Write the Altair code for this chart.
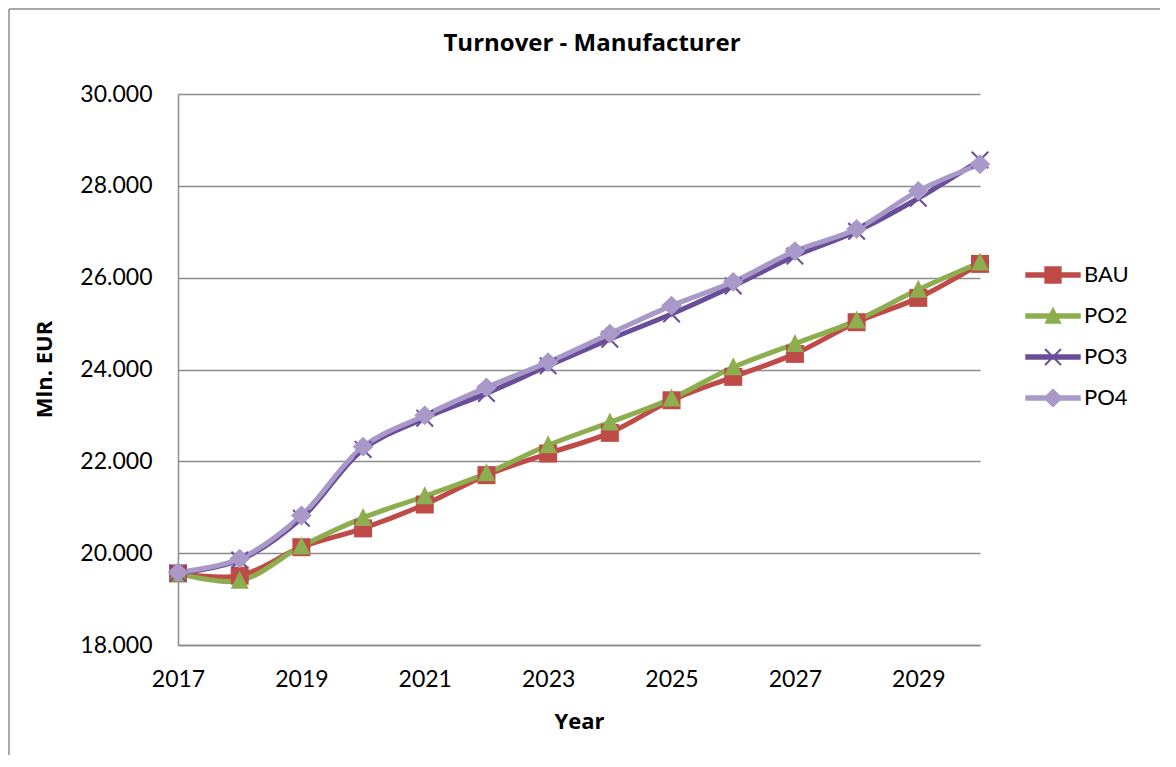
import altair as alt
import pandas as pd

years = list(range(2017, 2031))
series_names = ["BAU", "PO2", "PO3", "PO4"]
bau = [19560, 19510, 20130, 20540, 21060, 21700, 22170, 22620, 23330, 23840, 24340, 25030, 25560, 26300]
po2 = [19560, 19400, 20150, 20770, 21240, 21740, 22350, 22850, 23370, 24050, 24560, 25070, 25740, 26330]
po3 = [19560, 19850, 20760, 22260, 22940, 23480, 24080, 24660, 25210, 25820, 26470, 27010, 27730, 28560]
po4 = [19580, 19880, 20820, 22320, 23000, 23610, 24160, 24780, 25390, 25910, 26580, 27060, 27890, 28470]
y_ticks = [18000, 20000, 22000, 24000, 26000, 28000, 30000]
x_ticks = [2017, 2019, 2021, 2023, 2025, 2027, 2029]

colors = ["#BE4B48", "#8CAE4F", "#6A4D98", "#A899C8"]

rows = []
for name, vals in zip(series_names, [bau, po2, po3, po4]):
    for yr, v in zip(years, vals):
        rows.append({"Year": yr, "value": v, "series": name})
df = pd.DataFrame(rows)

FONT = "Lato"
TFONT = "Open Sans"
GRID = "#8C8C8C"

# marker shapes (filled paths)
sq = "M-1,-1H1V1H-1Z"
tri = "M0,-1.1L1,0.9H-1Z"
dia = "M0,-1.1L1.15,0L0,1.1L-1.15,0Z"
xs = "M-1,-0.84L0.84,1L1,0.84L-0.84,-1Z M-1,0.84L-0.84,1L1,-0.84L0.84,-1Z"
marker_paths = [sq, tri, xs, dia]

line_fw = "M-3.2,-0.33H3.2V0.33H-3.2Z"
line_bw = "M-3.2,-0.33V0.33H3.2V-0.33Z"
legend_paths = [line_fw + " " + sq, line_fw + " " + tri, line_bw + " " + xs, line_fw + " " + dia]

x_axis = alt.Axis(values=x_ticks, format="d", grid=False, ticks=False,
                  domainColor=GRID, domainWidth=1.5, labelFont=FONT, labelFontSize=23,
                  labelColor="#000000", labelPadding=23, labelFlush=False,
                  title="Year", titleFont=TFONT, titleFontSize=22, titleFontWeight="bold",
                  titleColor="#000000", titleBaseline="middle", titleY=76)
y_axis = alt.Axis(values=y_ticks, ticks=False, grid=True, gridColor=GRID, gridWidth=1.5,
                  domainColor=GRID, domainWidth=1.5,
                  labelExpr="replace(format(datum.value, ',.0f'), ',', '.')",
                  labelFont=FONT, labelFontSize=23, labelColor="#000000", labelPadding=26,
                  title="Mln. EUR", titleFont=TFONT, titleFontSize=22, titleFontWeight="bold",
                  titleColor="#000000", titleAngle=270, titleAlign="center",
                  titleBaseline="middle", titleX=-134, titleY=275)
x_scale = alt.Scale(domain=[2017, 2030], nice=False)
y_scale = alt.Scale(domain=[18000, 30000], nice=False, zero=False)

lines = alt.Chart(df).mark_line(interpolate="catmull-rom", strokeWidth=5, strokeCap="round").encode(
    x=alt.X("Year:Q", scale=x_scale, axis=x_axis),
    y=alt.Y("value:Q", scale=y_scale, axis=y_axis),
    color=alt.Color("series:N", scale=alt.Scale(domain=series_names, range=colors), legend=None),
    detail="series:N",
)

points = alt.Chart(df).mark_point(filled=True, opacity=1, size=324, strokeWidth=0).encode(
    x=alt.X("Year:Q", scale=x_scale, axis=x_axis),
    y=alt.Y("value:Q", scale=y_scale, axis=y_axis),
    color=alt.Color("series:N", scale=alt.Scale(domain=series_names, range=colors), legend=None),
    shape=alt.Shape("series:N", scale=alt.Scale(domain=series_names, range=marker_paths), legend=None),
)

leg = alt.Legend(title=None, orient="none", legendX=864, legendY=170,
                 labelFont=FONT, labelFontSize=22, labelColor="#000000",
                 labelOffset=20, symbolSize=300, rowPadding=19,
                 symbolStrokeWidth=0, symbolOpacity=1, padding=0)

legend_layer = alt.Chart(df).transform_filter("false").mark_point(filled=True, opacity=1, strokeWidth=0).encode(
    x=alt.X("Year:Q", scale=x_scale, axis=x_axis),
    y=alt.Y("value:Q", scale=y_scale, axis=y_axis),
    color=alt.Color("series:N", scale=alt.Scale(domain=series_names, range=colors), legend=leg),
    shape=alt.Shape("series:N", scale=alt.Scale(domain=series_names, range=legend_paths), legend=leg),
)

frame_data = alt.Data(values=[{"a": 1}])
border_left = alt.Chart(frame_data).mark_rule(color=GRID, strokeWidth=1.5).encode(
    x=alt.value(-169), y=alt.value(-85), y2=alt.value(3000)
)
border_top = alt.Chart(frame_data).mark_rule(color=GRID, strokeWidth=1.5).encode(
    x=alt.value(-169), x2=alt.value(3000), y=alt.value(-85)
)

chart = alt.layer(border_left, border_top, lines, points, legend_layer).resolve_scale(
    shape="independent", color="independent"
).properties(
    width=802, height=551,
    background="white",
    view=alt.ViewBackground(strokeWidth=0, stroke="transparent"),
    autosize=alt.AutoSizeParams(type="none"),
    padding={"left": 170, "top": 86, "right": 180, "bottom": 110},
    title=alt.TitleParams("Turnover - Manufacturer", font=TFONT, fontSize=24, fontWeight="bold",
                          color="#000000", anchor="middle", dx=13, offset=-60, baseline="middle"),
).configure_view(strokeWidth=0, stroke="transparent").configure_axis(grid=False)

chart.save("out.html", embed_options={"renderer": "svg", "actions": False})
